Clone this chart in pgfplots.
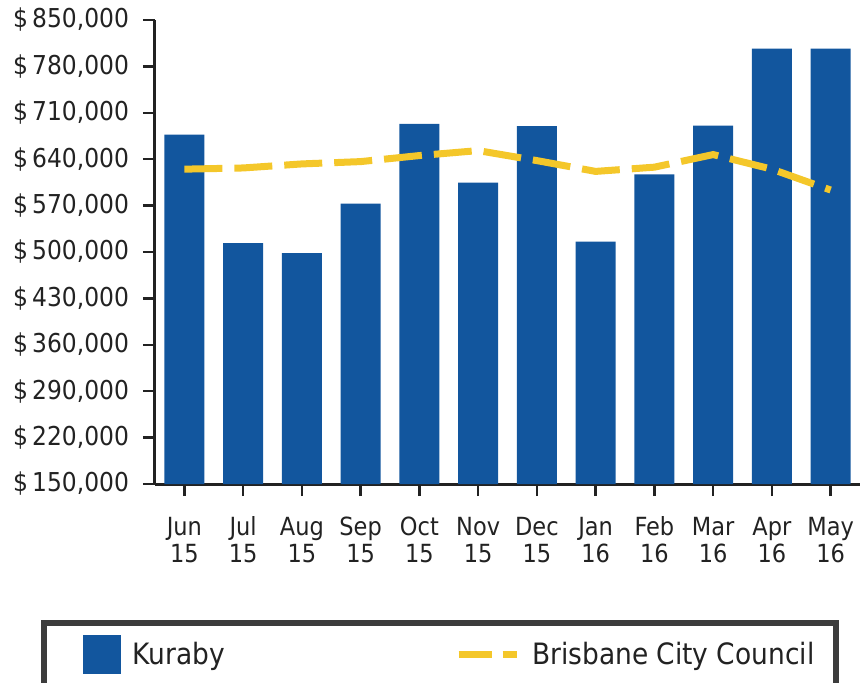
\documentclass[border=0pt]{standalone}
\usepackage{pgfplots}
\pgfplotsset{compat=1.18}
\usepackage{fontspec}
\setmainfont{DejaVu Sans Condensed}
\definecolor{barblue}{HTML}{12569E}
\definecolor{lineyellow}{HTML}{F4C72A}
\definecolor{txt}{HTML}{222222}
\definecolor{legendgray}{HTML}{3C3C3C}
\newcommand{\xs}{\rule{0pt}{11pt}}
\begin{document}
\begin{tikzpicture}
\begin{axis}[
  scale only axis, width=352.5pt, height=232pt,
  xmin=-0.5, xmax=11.5, ymin=150000, ymax=850000,
  scaled y ticks=false,
  axis x line*=bottom, axis y line*=left,
  axis line style={line width=1.5pt, color=txt},
  xtick={0,1,2,3,4,5,6,7,8,9,10,11},
  xticklabels={\xs Jun\\15,\xs Jul\\15,\xs Aug\\15,\xs Sep\\15,\xs Oct\\15,\xs Nov\\15,\xs Dec\\15,\xs Jan\\16,\xs Feb\\16,\xs Mar\\16,\xs Apr\\16,\xs May\\16},
  xticklabel style={align=center, font=\fontsize{12.5}{13.5}\selectfont, text=txt, yshift=-5pt},
  ytick={150000,220000,290000,360000,430000,500000,570000,640000,710000,780000,850000},
  yticklabels={{\$\,150,000},{\$\,220,000},{\$\,290,000},{\$\,360,000},{\$\,430,000},{\$\,500,000},{\$\,570,000},{\$\,640,000},{\$\,710,000},{\$\,780,000},{\$\,850,000}},
  yticklabel style={font=\fontsize{13}{14}\selectfont, text=txt, xshift=-3.5pt},
  tick align=outside,
  major tick length=6pt,
  tick style={line width=1.2pt, color=txt},
  legend columns=2,
  legend style={at={(axis description cs:-0.1617,-0.2931)}, anchor=north west,
    draw=legendgray, line width=3pt, inner xsep=11pt, inner ysep=6pt,
    font=\fontsize{14.7}{16}\selectfont, text=txt,
    /tikz/every odd column/.append style={column sep=6pt},
    /tikz/every even column/.append style={column sep=115pt},
    nodes={inner sep=0pt}},
]
\addplot[ybar, bar width=20pt, fill=barblue, draw=none,
  legend image code/.code={\path (-8.5pt,0pt); \fill[barblue] (0pt,-9.75pt) rectangle (19pt,9.75pt);}]
  coordinates {(0,677000) (1,513500) (2,498500) (3,573000) (4,693500) (5,604500)
               (6,690000) (7,515500) (8,617000) (9,690500) (10,807000) (11,807000)};
\addlegendentry{Kuraby}
\addplot[sharp plot, color=lineyellow, line width=3.5pt, dash pattern=on 19pt off 6pt,
  legend image code/.code={\draw[lineyellow, line width=3.5pt, dash pattern=on 16.5pt off 5.5pt] (0pt,0pt) -- (29pt,0pt);}]
  coordinates {(0,625000) (1,626800) (2,632900) (3,636400) (4,645500) (5,653000)
               (6,637900) (7,621600) (8,628000) (9,647000) (10,625000) (11,593500)};
\addlegendentry{Brisbane City Council}
\end{axis}
\pgfresetboundingbox
\path[use as bounding box] (-77.5pt,-99pt) rectangle (353pt,242pt);
\end{tikzpicture}
\end{document}
